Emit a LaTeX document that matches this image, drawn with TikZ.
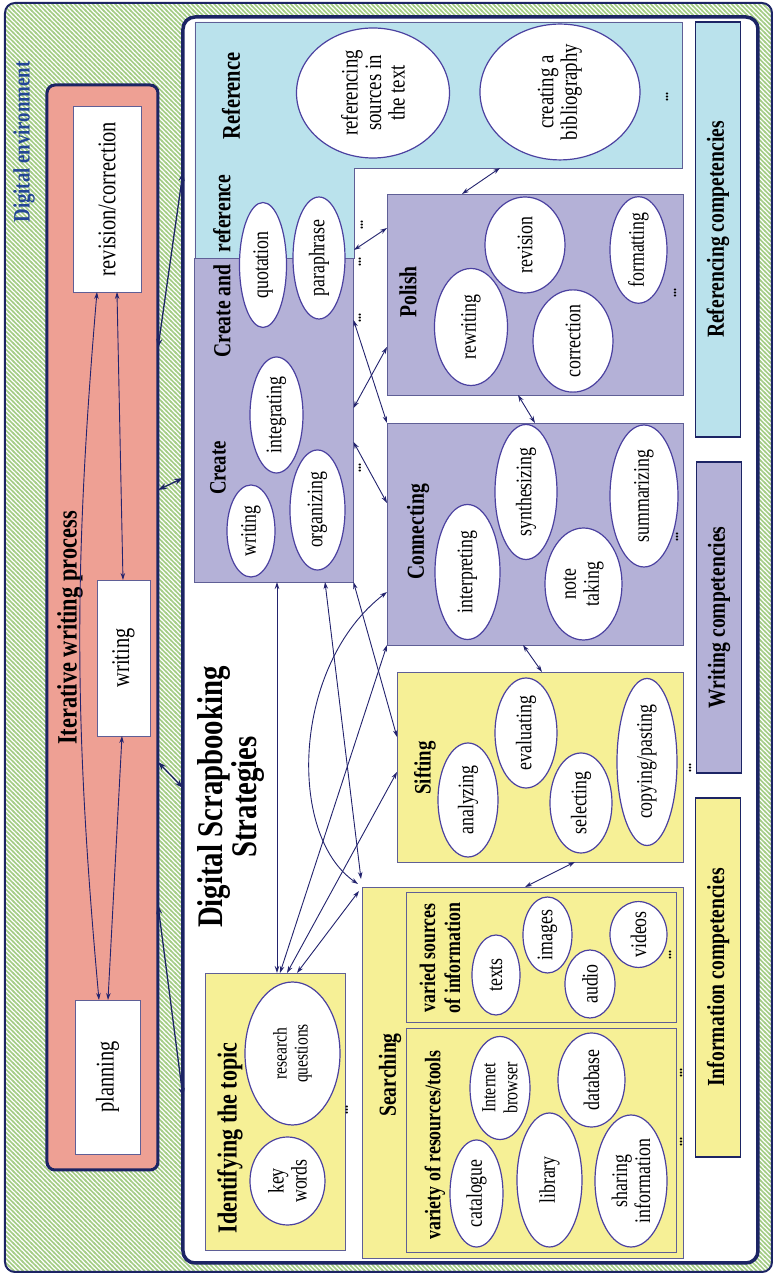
\documentclass[tikz,border=0pt]{standalone}
\usepackage{fontspec}
\setmainfont{Liberation Serif}[FakeStretch=0.8]
\usetikzlibrary{shapes.geometric,arrows.meta,calc,patterns}

\definecolor{navy}{RGB}{28,36,100}
\definecolor{envtext}{RGB}{35,70,150}
\definecolor{pinkfill}{RGB}{238,160,148}
\definecolor{refblue}{RGB}{186,226,236}
\definecolor{lav}{RGB}{180,177,215}
\definecolor{yel}{RGB}{246,240,150}
\definecolor{ellline}{RGB}{75,65,160}
\definecolor{boxline}{RGB}{95,95,150}
\definecolor{linkcol}{RGB}{35,35,110}
\definecolor{hatch}{RGB}{165,205,135}

% diagonal hatching of the outer frame
\pgfdeclarepatternformonly{envhatch}{\pgfqpoint{-1pt}{-1pt}}{\pgfqpoint{5.5pt}{5.5pt}}{\pgfqpoint{4.5pt}{4.5pt}}{%
  \pgfsetlinewidth{1.7pt}%
  \pgfpathmoveto{\pgfqpoint{-1pt}{5.5pt}}%
  \pgfpathlineto{\pgfqpoint{5.5pt}{-1pt}}%
  \pgfusepath{stroke}}

\begin{document}
% drawn in landscape units (1 unit = 1pt), then turned a quarter turn
\begin{tikzpicture}[x=1pt,y=1pt,rotate=90,transform shape,
  every node/.style={inner sep=0pt,outer sep=0pt},
  envframe/.style={draw=navy,line width=2pt,rounded corners=10pt,
    preaction={fill=white},pattern=envhatch,pattern color=hatch},
  procframe/.style={draw=navy,line width=3pt,rounded corners=8pt,fill=pinkfill},
  dssframe/.style={draw=navy,line width=3.5pt,rounded corners=12pt,fill=white},
  wbox/.style={draw=boxline,line width=0.8pt,fill=white,
    font=\fontsize{25.5}{27}\selectfont},
  area/.style={draw=boxline,line width=0.8pt},
  compbox/.style={draw=navy,line width=1.5pt,font=\fontsize{24.5}{26}\selectfont\bfseries},
  ell/.style={ellipse,draw=ellline,line width=1.2pt,fill=white,align=center,
    font=\fontsize{22.3}{23}\selectfont},
  lab/.style={font=\fontsize{24.5}{26}\selectfont\bfseries,align=center},
  dots/.style={font=\fontsize{15}{15}\selectfont\bfseries},
  link/.style={draw=linkcol,line width=0.9pt,
    {Stealth[length=7pt,width=4.5pt]}-{Stealth[length=7pt,width=4.5pt]}},
  biglink/.style={draw=navy,line width=1.3pt,
    {Stealth[length=9pt,width=6pt]}-{Stealth[length=9pt,width=6pt]}}]

\useasboundingbox (0,0) rectangle (1275,777);

% ---------- outer frame: digital environment ----------
\node[envframe,minimum width=1269pt,minimum height=767pt] (env) at (637.5,388.5) {};
\node[lab,text=envtext,font=\fontsize{23.5}{25}\selectfont\bfseries] (envlab) at (1133,753) {Digital environment};

% ---------- iterative writing process ----------
\node[procframe,minimum width=1085pt,minimum height=111pt] (iwp) at (647.5,674.5) {};
\node[lab,font=\fontsize{28}{30}\selectfont\bfseries] (iwplab) at (647,707) {Iterative writing process};
\node[wbox,minimum width=186pt,minimum height=68pt] (revcor) at (1076,670) {revision/correction};
\node[wbox,minimum width=156pt,minimum height=53pt] (wbox) at (617,653.5) {writing};
\node[wbox,minimum width=154pt,minimum height=65pt] (planning) at (198,669.5) {planning};

\draw[link] ($(planning.south east)+(0,41)$) to[bend left=5] ($(revcor.south west)+(0,44)$);
\draw[link] ($(planning.south east)+(0,32)$) -- ($(wbox.south west)+(0,28)$);
\draw[link] ($(wbox.south east)+(0,27)$) -- ($(revcor.south west)+(0,24)$);

% ---------- digital scrapbooking strategies ----------
\node[dssframe,minimum width=1246pt,minimum height=575pt] (dss) at (635,306.5) {};

\draw[biglink] ($(iwp.south west)+(822,0)$) -- ($(dss.north west)+(1091,0)$);
\draw[biglink] ($(iwp.south west)+(680,0)$) -- ($(dss.north west)+(785,0)$);
\draw[biglink] ($(iwp.south west)+(408,0)$) -- ($(dss.north west)+(475,0)$);
\draw[biglink] ($(iwp.south west)+(265,0)$) -- ($(dss.north west)+(166,0)$);

% reference area (L-shaped) and the create box
\node[minimum width=146pt,minimum height=487pt] (ref) at (1180,338.5) {};
\node[minimum width=90pt,minimum height=159pt] (crref) at (1062,502.5) {};
\path[fill=refblue,area] (crref.north west) -- (ref.north east) -- (ref.south east)
  -- (ref.south west) -- (crref.south east) -- (crref.south west) -- cycle;
\node[area,fill=lav,minimum width=324pt,minimum height=159pt] (create) at (855,503) {};

\node[lab,font=\fontsize{25.5}{27}\selectfont\bfseries] (reflab) at (1179,546) {Reference};
\node[lab] (crlab) at (1009,555) {Create and\enspace reference};
\node[lab,font=\fontsize{23.5}{25}\selectfont\bfseries] (createlab) at (807,559) {Create};

\node[ell,minimum width=125pt,minimum height=47pt] (quot) at (1010,514) {quotation};
\node[ell,minimum width=122pt,minimum height=52pt] (para) at (1017,458) {paraphrase};
\node[ell,minimum width=116pt,minimum height=53pt] (integ) at (860,500.5) {integrating};
\node[ell,minimum width=92pt,minimum height=48pt] (cwrit) at (744,526) {writing};
\node[ell,minimum width=120pt,minimum height=55pt] (organ) at (765,459.5) {organizing};

\node[ell,font=\fontsize{23.5}{23.5}\selectfont,minimum width=130pt,minimum height=153pt] (refsrc) at (1182,404) {referencing\\sources in\\the text};
\node[ell,font=\fontsize{23.5}{23.5}\selectfont,minimum width=135pt,minimum height=160pt] (biblio) at (1183,217) {creating a\\bibliography};
\node[dots] (refdots) at (1178,110) {...};

% polish
\node[area,fill=lav,minimum width=201pt,minimum height=296pt] (polish) at (980.5,242) {};
\node[lab] (polishlab) at (983,369) {Polish};
\node[ell,minimum width=117pt,minimum height=73pt] (rewr) at (948,306) {rewriting};
\node[ell,minimum width=96pt,minimum height=80pt] (revis) at (1030,252) {revision};
\node[ell,minimum width=102pt,minimum height=80pt] (corr) at (934,204) {correction};
\node[ell,minimum width=100pt,minimum height=57pt] (form) at (1025,138.5) {formatting};
\node[dots] (poldots) at (982,102) {...};

% connecting
\node[area,fill=lav,minimum width=222pt,minimum height=296pt] (connecting) at (741,242) {};
\node[lab] (connlab) at (743,359) {Connecting};
\node[ell,minimum width=135pt,minimum height=65pt] (interp) at (703,309.5) {interpreting};
\node[ell,minimum width=135pt,minimum height=62pt] (synth) at (783,251) {synthesizing};
\node[ell,minimum width=112pt,minimum height=77pt] (note) at (691,193.5) {note\\taking};
\node[ell,minimum width=142pt,minimum height=68pt] (summ) at (779,133) {summarizing};
\node[dots] (conndots) at (738,100) {...};

% sifting
\node[area,fill=yel,minimum width=190pt,minimum height=286pt] (sifting) at (508,237) {};
\node[lab,font=\fontsize{23.5}{25}\selectfont\bfseries] (siftlab) at (507,352) {Sifting};
\node[ell,minimum width=114pt,minimum height=60pt] (anal) at (475,309) {analyzing};
\node[ell,minimum width=110pt,minimum height=62pt] (eval) at (542,251) {evaluating};
\node[ell,minimum width=100pt,minimum height=62pt] (sel) at (472,196) {selecting};
\node[ell,minimum width=167pt,minimum height=60pt] (copy) at (513,130) {copying/pasting};
\node[dots] (siftdots) at (507,87) {...};

% searching
\node[area,fill=yel,minimum width=371pt,minimum height=321pt] (searching) at (202.5,254.5) {};
\node[lab] (searchlab) at (200,387) {Searching};
\node[area,fill=yel,minimum width=130pt,minimum height=270pt] (varied) at (318,236) {};
\node[area,fill=yel,minimum width=224pt,minimum height=270pt] (variety) at (135,236) {};
\node[lab,font=\fontsize{22.3}{25}\selectfont\bfseries] (variedlab) at (317,337) {varied sources\\of information};
\node[lab,font=\fontsize{22.3}{25}\selectfont\bfseries] (varietylab) at (130,342) {variety of resources/tools};
\node[ell,minimum width=80pt,minimum height=48pt] (texts) at (300,281) {texts};
\node[ell,minimum width=76pt,minimum height=49pt] (images) at (340,229.5) {images};
\node[ell,minimum width=68pt,minimum height=50pt] (audio) at (291,187) {audio};
\node[ell,minimum width=65pt,minimum height=57pt] (videos) at (340.5,138.5) {videos};
\node[dots] (varieddots) at (320,107) {...};
\node[ell,minimum width=107pt,minimum height=53pt] (catal) at (81.5,300.5) {catalogue};
\node[ell,font=\fontsize{20}{22}\selectfont,minimum width=103pt,minimum height=60pt] (inet) at (187,277) {Internet\\browser};
\node[ell,minimum width=134pt,minimum height=65pt] (lib) at (95,227.5) {library};
\node[ell,minimum width=94pt,minimum height=67pt] (datab) at (195,185.5) {database};
\node[ell,minimum width=132pt,minimum height=72pt] (share) at (94,146) {sharing\\information};
\node[dots] (srchdotsa) at (202,96) {...};
\node[dots] (srchdotsb) at (133,96) {...};

% identifying the topic
\node[area,fill=yel,minimum width=277pt,minimum height=140pt] (identify) at (163.5,502) {};
\node[lab,font=\fontsize{27.5}{29}\selectfont\bfseries] (identlab) at (137,547) {Identifying the topic};
\node[ell,font=\fontsize{19.5}{21}\selectfont,minimum width=143pt,minimum height=95pt] (resq) at (221.5,484.5) {research\\questions};
\node[ell,minimum width=88pt,minimum height=75pt] (keyw) at (94,489.5) {key\\words};
\node[dots] (identdots) at (165,430) {...};

% title
\node[lab,font=\fontsize{36}{34}\selectfont\bfseries] (title) at (478,546.5) {Digital Scrapbooking\\Strategies};

% competencies
\node[compbox,fill=refblue,minimum width=415pt,minimum height=45pt] (refcomp) at (1045.5,59) {Referencing competencies};
\node[compbox,fill=lav,minimum width=311pt,minimum height=45pt] (wricomp) at (657.5,58) {Writing competencies};
\node[compbox,fill=yel,minimum width=359pt,minimum height=45pt] (infcomp) at (297.5,59) {Information competencies};

% dots in the gap beside the create box
\node[dots] (gapdotsa) at (1050,415) {...};
\node[dots] (gapdotsb) at (1013,417) {...};
\node[dots] (gapdotsc) at (957,417) {...};
\node[dots] (gapdotsd) at (807,417) {...};

% ---------- links between strategies ----------
\draw[link] ($(crref.south west)+(8,0)$) -- ($(polish.north west)+(167,0)$);
\draw[link] ($(polish.south east)+(0,221)$) -- ($(ref.south west)+(0,182)$);
\draw[link] ($(create.south east)+(-62,0)$) -- (connecting.north east);
\draw[link] ($(create.south east)+(-150,0)$) -- ($(polish.north west)+(48,0)$);
\draw[link] ($(create.south east)+(-184,0)$) -- ($(connecting.north west)+(142,0)$);
\draw[link] ($(polish.south west)+(0,165)$) -- ($(connecting.south east)+(0,148)$);
\draw[link] ($(connecting.south west)+(0,160)$) -- ($(sifting.south east)+(0,141)$);
\draw[link] ($(sifting.south west)+(0,108)$) -- ($(searching.south east)+(0,158)$);

\draw[link] ($(create.south west)+(0,76.5)$) -- ($(identify.south east)+(0,68)$);
\draw[link] ($(create.south west)+(0,28.5)$) -- ($(searching.north east)+(8,1)$);
\draw[link] (create.south west) -- ($(sifting.north west)+(125,0)$);
\draw[link] ($(connecting.north west)+(53,0)$) .. controls ($(connecting.north west)+(-20,95)$) and ($(searching.north east)+(52,75)$) .. ($(searching.north east)+(3,4)$);
\draw[link] ($(identify.south east)+(0,65)$) -- (connecting.north west);
\draw[link] ($(identify.south east)+(0,58)$) -- ($(sifting.north west)+(90,0)$);
\draw[link] ($(identify.south east)+(0,48)$) -- ($(searching.north east)+(-4,3)$);

\end{tikzpicture}
\end{document}
